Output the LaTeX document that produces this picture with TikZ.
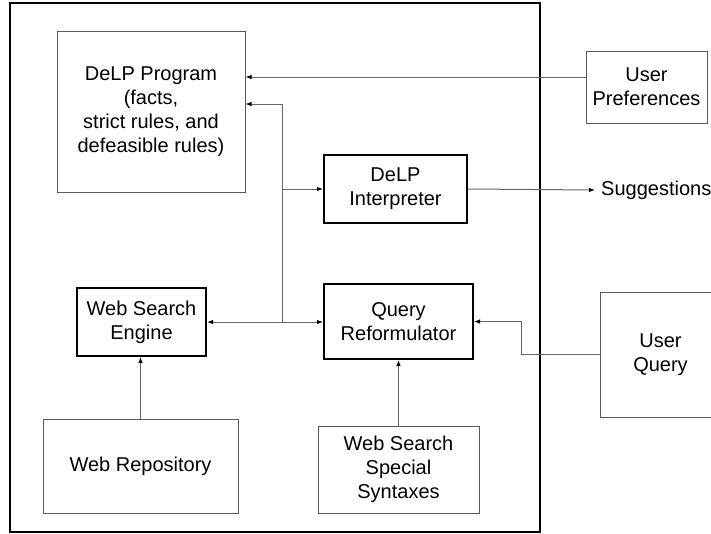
\documentclass[tikz,border=0pt]{standalone}
\usepackage{fontspec}
\setmainfont{Liberation Sans}
\usetikzlibrary{arrows.meta,calc}

\begin{document}
\begin{tikzpicture}[x=1pt,y=-1pt,
  font=\fontsize{20}{24}\selectfont,
  thinbox/.style={draw=black!65,line width=1pt,align=center,inner sep=0pt},
  thickbox/.style={draw=black,line width=2pt,align=center,inner sep=0pt},
  link/.style={draw=black!60,line width=1pt},
  tip/.tip={Latex[length=6pt,width=4.5pt,color=black]},
  arr/.style={link,-tip},
  darr/.style={link,tip-tip}
]
\useasboundingbox (0,0) rectangle (711,533);

% system boundary
\node[draw,line width=2pt,minimum width=530pt,minimum height=529pt,inner sep=0pt] (frame) at (275,267.5) {};

% components
\node[thinbox,minimum width=188pt,minimum height=161pt] (prog) at (151,111.5)
  {DeLP Program\\(facts,\\strict rules, and\\defeasible rules)};
\node[thinbox,minimum width=121pt,minimum height=72pt] (pref) at (646.5,87) {User\\Preferences};
\node[thickbox,minimum width=143pt,minimum height=68pt] (interp) at (395.5,189) {DeLP\\Interpreter};
\node[thickbox,minimum width=129pt,minimum height=68pt] (wse) at (141.5,322) {Web Search\\Engine};
\node[thickbox,minimum width=149pt,minimum height=75pt] (qr) at (398.5,321.5) {Query\\Reformulator};
\node[thinbox,minimum width=195pt,minimum height=94pt] (repo) at (140.5,466) {Web Repository};
\node[thinbox,minimum width=161pt,minimum height=87pt] (syn) at (398.5,469.5) {Web Search\\Special\\Syntaxes};
\node[thinbox,minimum width=121pt,minimum height=125pt] (uq) at (660.5,354.5) {User\\Query};
\node[anchor=west,inner sep=0pt] (sug) at (601,190) {Suggestions};

% junctions
\coordinate (bus) at ($(wse.east)!0.65!(qr.west)$);
\coordinate (qbend) at ($(qr.east)!0.38!(uq.west |- qr.east)$);

% connectors
\draw[arr] ([yshift=10pt]pref.west) coordinate (pin) -- (prog.east |- pin);
\draw[darr] (wse.east) -- (qr.west |- wse.east);
\draw[arr] (bus) |- ([yshift=7.5pt]prog.east);
\draw[arr] (bus |- interp.west) -- (interp.west);
\draw[arr] (interp.east) -- ([xshift=-6pt]sug.west);
\draw[arr] (repo.north) -- (repo.north |- wse.south);
\draw[arr] (syn.north) -- (syn.north |- qr.south);
\draw[arr] (uq.west) -| (qbend) -- (qr.east);
\end{tikzpicture}
\end{document}
